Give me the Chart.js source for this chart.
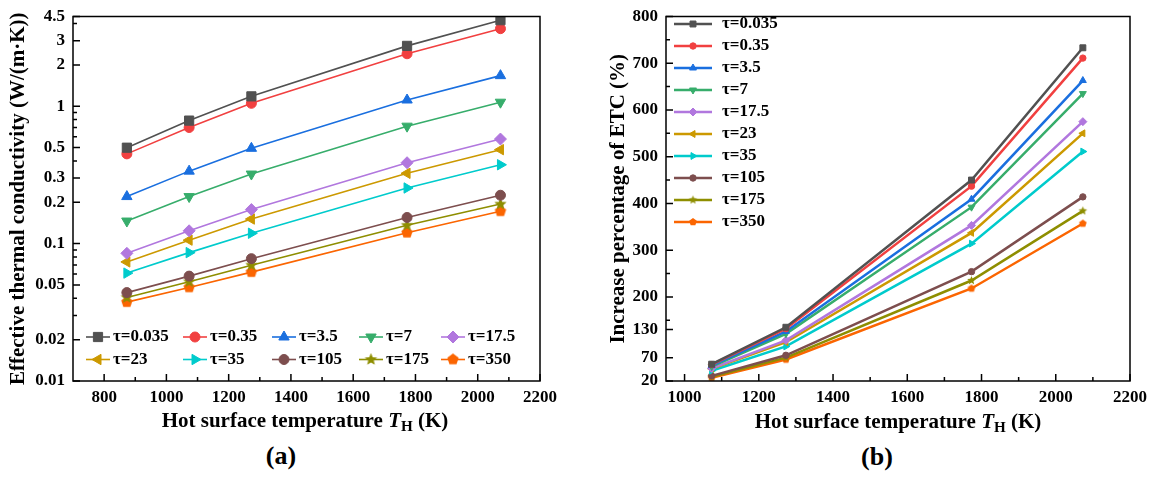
<!DOCTYPE html>
<html>
<head>
<meta charset="utf-8">
<script src="https://cdn.jsdelivr.net/npm/chart.js@4.4.1/dist/chart.umd.min.js"></script>
<style>
  body { margin: 0; width: 1153px; height: 479px; background: #fff; position: relative; overflow: hidden; font-family: "Liberation Serif", serif; }
  .box { position: absolute; top: 0; height: 410px; }
  .xt { position: absolute; transform: translate(-50%, -50%); font-weight: bold; font-size: 21px; white-space: nowrap; }
  .xt sub { font-size: 0.72em; line-height: 0; vertical-align: -0.3em; }
  .pl { position: absolute; transform: translate(-50%, -50%); font-weight: bold; font-size: 26px; }
</style>
</head>
<body>
<div class="box" style="left:0; width:580px;"><canvas id="chartA"></canvas></div>
<div class="box" style="left:580px; width:573px;"><canvas id="chartB"></canvas></div>
<div class="xt" style="left:305px; top:420px;">Hot surface temperature <i>T</i><sub>H</sub> (K)</div>
<div class="xt" style="left:898px; top:421px;">Hot surface temperature <i>T</i><sub>H</sub> (K)</div>
<div class="pl" style="left:281px; top:456px;">(a)</div>
<div class="pl" style="left:877px; top:457px;">(b)</div>
<script>
// --- data (a): effective thermal conductivity, W/(m·K) ---
const tempA = [873, 1073, 1273, 1773, 2073];
const etc0035 = [0.499, 0.786, 1.18, 2.75, 4.23];
const etc035 = [0.45, 0.70, 1.05, 2.41, 3.67];
const etc35 = [0.22, 0.337, 0.494, 1.11, 1.67];
const etc7 = [0.146, 0.22, 0.321, 0.716, 1.07];
const etc175 = [0.085, 0.124, 0.177, 0.388, 0.577];
const etc23 = [0.0736, 0.106, 0.151, 0.325, 0.483];
const etc35b = [0.061, 0.086, 0.119, 0.254, 0.375];
const etc105 = [0.044, 0.058, 0.0777, 0.155, 0.225];
const etc175b = [0.0405, 0.0528, 0.0697, 0.136, 0.194];
const etc350 = [0.0375, 0.048, 0.062, 0.12, 0.172];

// --- data (b): increase percentage of ETC, % ---
const tempB = [1073, 1273, 1773, 2073];
const inc0035 = [56, 135, 450, 733];
const inc035 = [55, 132, 437, 711];
const inc35 = [53, 126, 409, 663];
const inc7 = [51, 121, 392, 635];
const inc175 = [47, 107, 353, 575];
const inc23 = [46, 103, 337, 550];
const inc35b = [42, 94, 314, 511];
const inc105 = [31, 75, 254, 414];
const inc175b = [29, 70, 235, 384];
const inc350 = [27, 66, 218, 357];

const tauLabels = ['τ=0.035', 'τ=0.35', 'τ=3.5', 'τ=7', 'τ=17.5', 'τ=23', 'τ=35', 'τ=105', 'τ=175', 'τ=350'];

// --- ticks ---
const xTicksA = [800, 1000, 1200, 1400, 1600, 1800, 2000, 2200];
const xMinorA = [900, 1100, 1300, 1500, 1700, 1900, 2100];
const yTicksA = [0.01, 0.02, 0.05, 0.1, 0.2, 0.3, 0.5, 1, 2, 3, 4.5];
const yTickLabelsA = ['0.01', '0.02', '0.05', '0.1', '0.2', '0.3', '0.5', '1', '2', '3', '4.5'];
const yMinorA = [0.03, 0.04, 0.06, 0.07, 0.08, 0.09, 0.4, 0.6, 0.7, 0.8, 0.9, 4];
const xTicksB = [1000, 1200, 1400, 1600, 1800, 2000, 2200];
const xMinorB = [1100, 1300, 1500, 1700, 1900, 2100];
const yTicksB = [20, 70, 130, 200, 300, 400, 500, 600, 700, 800];
const yTickLabelsB = ['20', '70', '130', '200', '300', '400', '500', '600', '700', '800'];
const yMinorB = [150, 250, 450, 550, 650, 750];

// --- style ---
const colors = ['#515151', '#F14040', '#1A6FDF', '#37AD6B', '#B177DE', '#CC9900', '#00CBCC', '#7D4E4E', '#8E8E00', '#FB6501'];
const markers = ['rect', 'circle', 'triangle', 'triangle', 'rectRot', 'triangle', 'triangle', 'circle', 'star5', 'pentagon'];
const rotations = [0, 0, 0, 180, 0, 270, 90, 0, 0, 0];
const FONT = '"Liberation Serif", "Times New Roman", serif';

// filled star / pentagon as small canvas images
function makeMarker(kind, color, r) {
    const c = document.createElement('canvas');
    const s = Math.ceil(2 * r + 2);
    c.width = s; c.height = s;
    const g = c.getContext('2d');
    g.fillStyle = color;
    g.beginPath();
    const n = kind === 'star5' ? 10 : 5;
    for (let i = 0; i < n; i++) {
        const a = -Math.PI / 2 + i * 2 * Math.PI / n;
        const rr = (kind === 'star5' && i % 2) ? r * 0.45 : r;
        const px = s / 2 + rr * Math.cos(a), py = s / 2 + rr * Math.sin(a);
        if (i) g.lineTo(px, py); else g.moveTo(px, py);
    }
    g.closePath();
    g.fill();
    return c;
}

function markerOpts(i, big) {
    const kind = markers[i];
    if (kind === 'star5' || kind === 'pentagon') {
        const r = big ? (kind === 'star5' ? 6.5 : 6) : (kind === 'star5' ? 4.5 : 4);
        return { style: makeMarker(kind, colors[i], r), radius: r };
    }
    const sizes = big ? { rect: 6.5, circle: 5, triangle: 6, rectRot: 6 } : { rect: 4.2, circle: 3.2, triangle: 4, rectRot: 4 };
    return { style: kind, radius: sizes[kind] };
}

function buildDatasets(xs, series, big) {
    return series.map((vals, i) => {
        const m = markerOpts(i, big);
        return {
            label: tauLabels[i],
            data: xs.map((x, j) => ({ x: x, y: vals[j] })),
            borderColor: colors[i],
            backgroundColor: colors[i],
            borderWidth: big ? 1.6 : 2.5,
            pointStyle: m.style,
            pointRadius: m.radius,
            pointRotation: rotations[i],
            pointBackgroundColor: colors[i],
            pointBorderColor: colors[i],
            pointBorderWidth: 1,
            tension: 0
        };
    });
}

// box frame + inward ticks
const framePlugin = {
    id: 'frame',
    afterDatasetsDraw(chart, args, opts) {
        const { ctx, chartArea: a } = chart;
        const xs = chart.scales.x, ys = chart.scales.y;
        ctx.save();
        ctx.strokeStyle = '#000';
        ctx.lineWidth = 1.5;
        ctx.strokeRect(a.left, a.top, a.right - a.left, a.bottom - a.top);
        ctx.beginPath();
        xs.ticks.forEach(t => { const p = xs.getPixelForValue(t.value); ctx.moveTo(p, a.bottom); ctx.lineTo(p, a.bottom - 7); });
        opts.xMinor.forEach(v => { const p = xs.getPixelForValue(v); ctx.moveTo(p, a.bottom); ctx.lineTo(p, a.bottom - 4); });
        ys.ticks.forEach(t => { const p = ys.getPixelForValue(t.value); ctx.moveTo(a.left, p); ctx.lineTo(a.left + 7, p); });
        opts.yMinor.forEach(v => { const p = ys.getPixelForValue(v); ctx.moveTo(a.left, p); ctx.lineTo(a.left + 4, p); });
        ctx.stroke();
        ctx.restore();
    }
};

// legend drawn inside the plot
const innerLegend = {
    id: 'innerLegend',
    afterDraw(chart, args, opts) {
        const ctx = chart.ctx;
        ctx.save();
        ctx.font = 'bold ' + opts.fontSize + 'px ' + FONT;
        ctx.textBaseline = 'middle';
        chart.data.datasets.forEach((ds, i) => {
            const x0 = opts.cols[i % opts.cols.length];
            const y = opts.rows[Math.floor(i / opts.cols.length)];
            ctx.strokeStyle = ds.borderColor;
            ctx.lineWidth = ds.borderWidth;
            ctx.beginPath();
            ctx.moveTo(x0, y);
            ctx.lineTo(x0 + opts.lineLen, y);
            ctx.stroke();
            ctx.fillStyle = ds.borderColor;
            ctx.lineWidth = 1;
            Chart.helpers.drawPoint(ctx, { pointStyle: ds.pointStyle, radius: ds.pointRadius * opts.markScale, rotation: ds.pointRotation, borderWidth: 1 }, x0 + opts.lineLen / 2, y);
            ctx.fillStyle = '#000';
            ctx.fillText(ds.label, x0 + opts.lineLen + opts.gap, y);
        });
        ctx.restore();
    }
};

function axisOpts(cfg) {
    return {
        type: cfg.type,
        min: cfg.min,
        max: cfg.max,
        grid: { display: false, drawTicks: false },
        border: { display: false },
        afterBuildTicks: s => { s.ticks = cfg.ticks.map(v => ({ value: v })); },
        afterFit: cfg.fit,
        ticks: {
            autoSkip: false,
            maxRotation: 0,
            padding: cfg.pad,
            color: '#000',
            font: { family: FONT, size: 17, weight: 'bold', lineHeight: cfg.lh },
            callback: (v, i) => cfg.labels ? cfg.labels[i] : String(v)
        },
        title: cfg.title ? { display: true, text: cfg.title, color: '#000', padding: { top: cfg.titlePad, bottom: 0 }, font: { family: FONT, size: 21, weight: 'bold' } } : { display: false }
    };
}

Chart.defaults.font.family = FONT;

new Chart(document.getElementById('chartA'), {
    type: 'line',
    data: { datasets: buildDatasets(tempA, [etc0035, etc035, etc35, etc7, etc175, etc23, etc35b, etc105, etc175b, etc350], true) },
    options: {
        responsive: true,
        maintainAspectRatio: false,
        animation: false,
        layout: { padding: { left: 0, right: 40, top: 12, bottom: 0 } },
        scales: {
            x: axisOpts({ type: 'linear', min: 700, max: 2200, ticks: xTicksA, pad: 6, lh: 1.2, fit: s => { s.height = 29; } }),
            y: axisOpts({ type: 'logarithmic', min: 0.01, max: 4.5, ticks: yTicksA, labels: yTickLabelsA, pad: 8, lh: 1, fit: s => { s.width = 73; }, title: 'Effective thermal conductivity (W/(m·K))', titlePad: 6 })
        },
        plugins: {
            legend: { display: false },
            tooltip: { enabled: false },
            frame: { xMinor: xMinorA, yMinor: yMinorA },
            innerLegend: { cols: [86, 183, 272, 359, 441], rows: [337, 359.5], lineLen: 24, gap: 3, fontSize: 17, markScale: 1 }
        }
    },
    plugins: [framePlugin, innerLegend]
});

new Chart(document.getElementById('chartB'), {
    type: 'line',
    data: { datasets: buildDatasets(tempB, [inc0035, inc035, inc35, inc7, inc175, inc23, inc35b, inc105, inc175b, inc350], false) },
    options: {
        responsive: true,
        maintainAspectRatio: false,
        animation: false,
        layout: { padding: { left: 0, right: 23, top: 9, bottom: 0 } },
        scales: {
            x: axisOpts({ type: 'linear', min: 950, max: 2200, ticks: xTicksB, pad: 6, lh: 1.2, fit: s => { s.height = 29; } }),
            y: axisOpts({ type: 'linear', min: 20, max: 800, ticks: yTicksB, labels: yTickLabelsB, pad: 8, lh: 1, fit: s => { s.width = 86; }, title: 'Increase percentage of ETC (%)', titlePad: 26 })
        },
        plugins: {
            legend: { display: false },
            tooltip: { enabled: false },
            frame: { xMinor: xMinorB, yMinor: yMinorB },
            innerLegend: { cols: [94], rows: [24, 46, 68, 90, 112, 134, 156, 178, 200, 222], lineLen: 38, gap: 10, fontSize: 17, markScale: 1 }
        }
    },
    plugins: [framePlugin, innerLegend]
});
</script>
</body>
</html>
